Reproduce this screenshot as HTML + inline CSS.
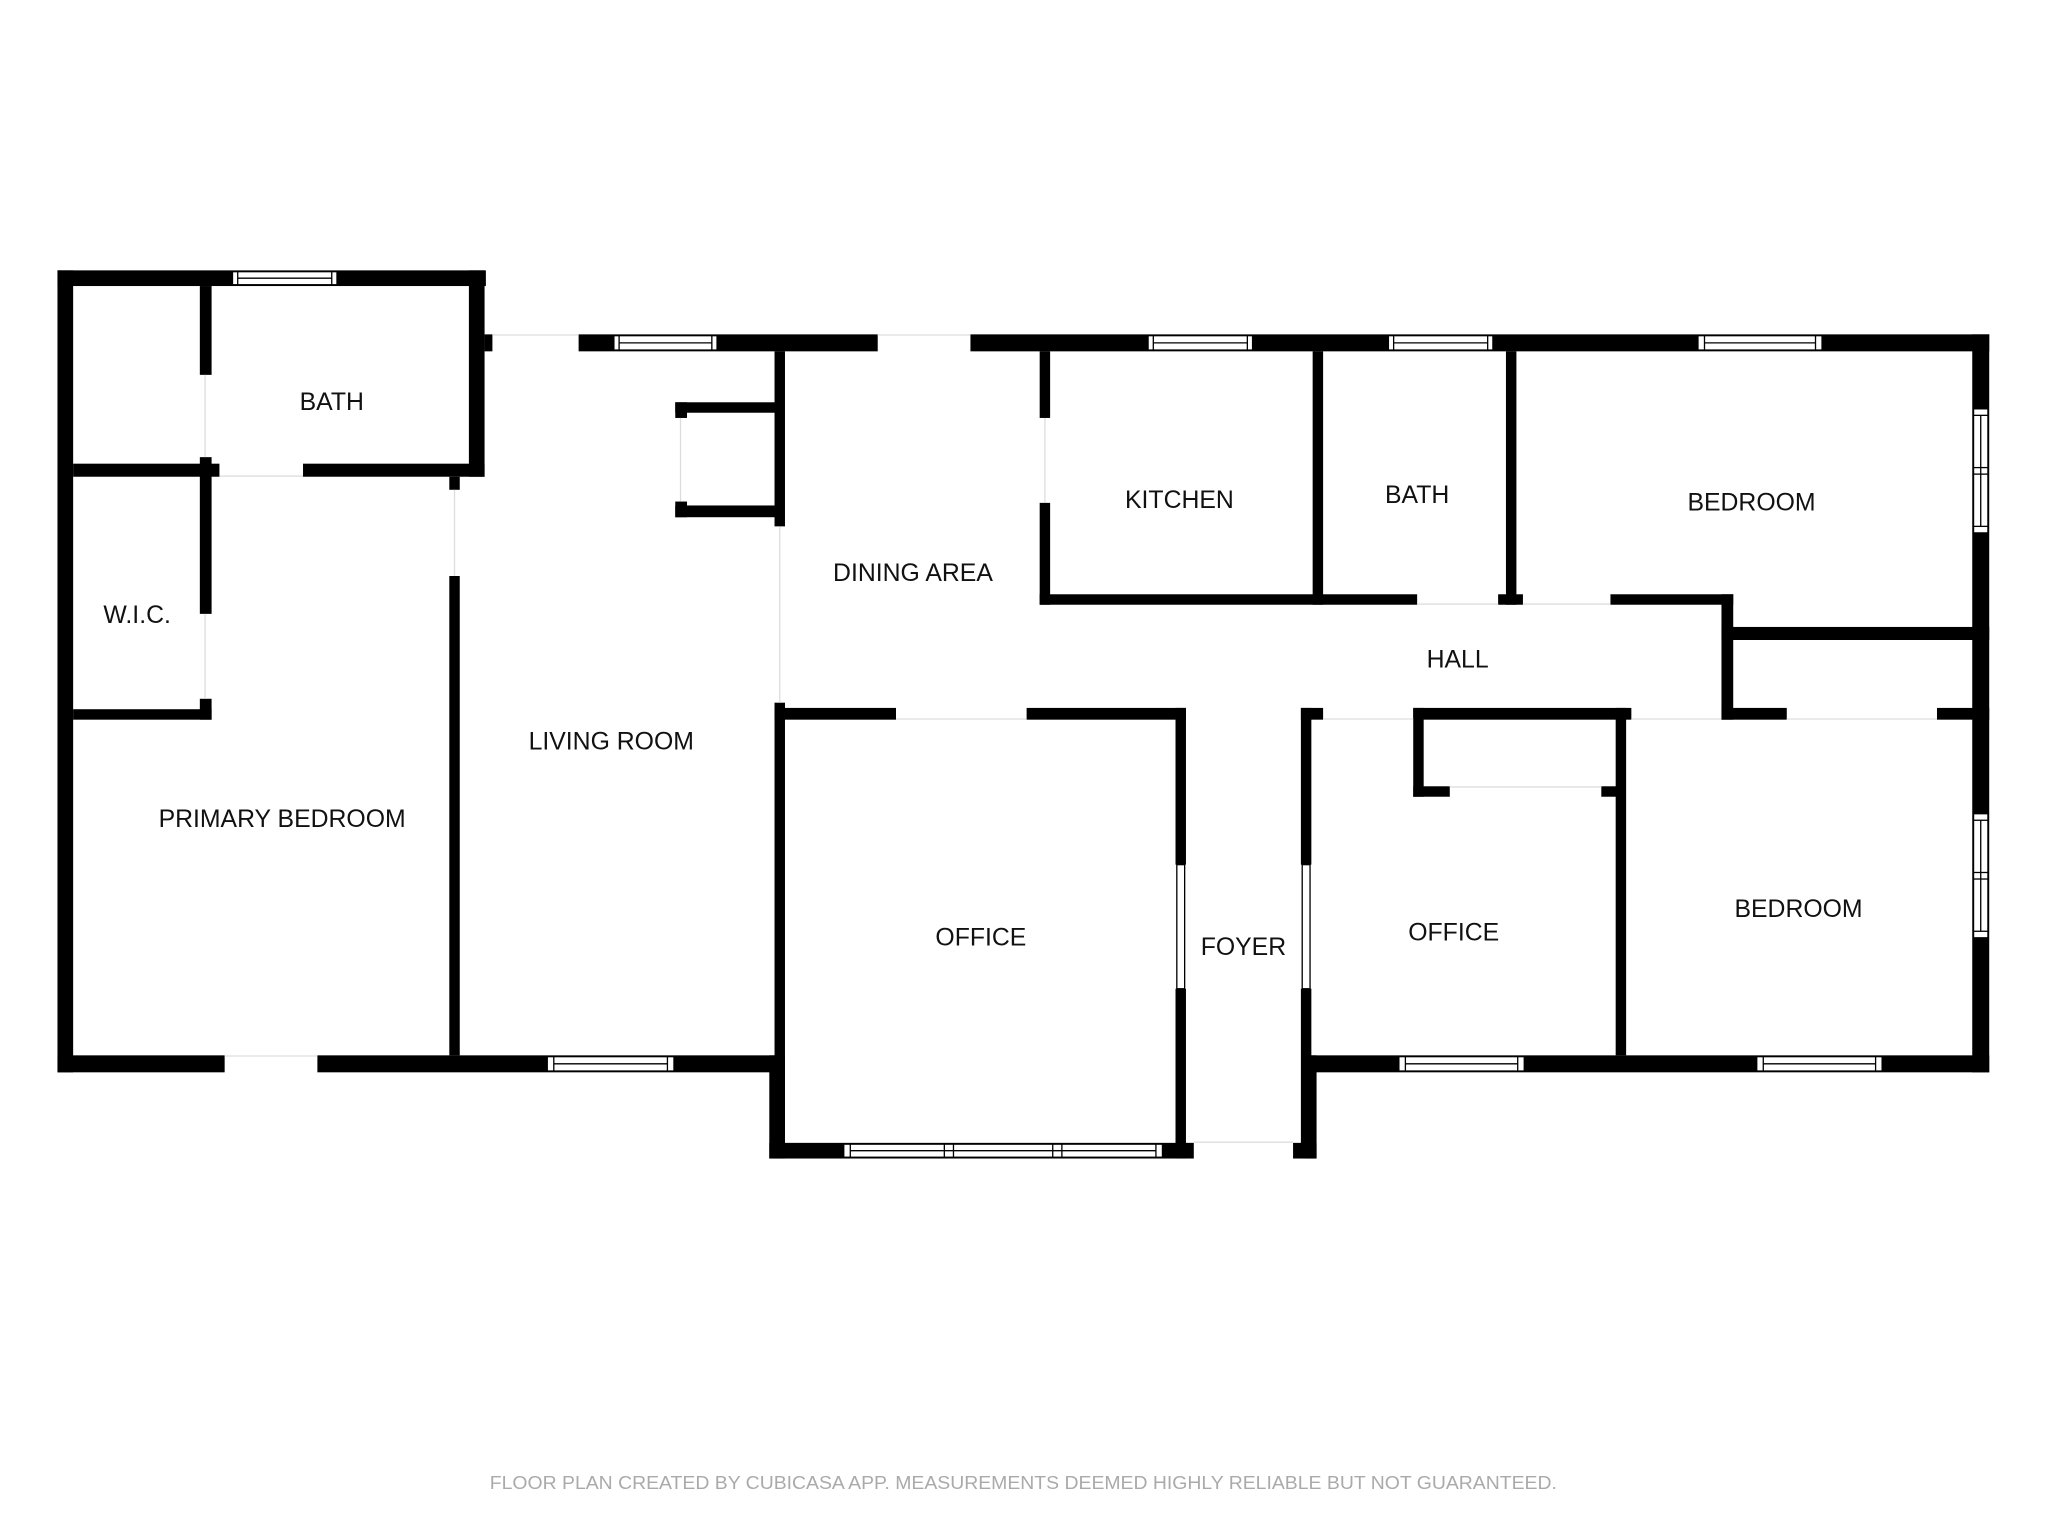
<!DOCTYPE html>
<html><head><meta charset="utf-8"><style>
html,body{margin:0;padding:0;background:#fff;}
svg{display:block;}
text{font-family:"Liberation Sans",Arial,sans-serif;}
</style></head><body>
<svg width="2048" height="1536" viewBox="0 0 1568 1176" xmlns="http://www.w3.org/2000/svg">
<rect width="1568" height="1176" fill="#fff"/>
<g fill="#000">
<rect x="44" y="207" width="328" height="12"/>
<rect x="44" y="207" width="12" height="614"/>
<rect x="44" y="808" width="128" height="13"/>
<rect x="243" y="808" width="353" height="13"/>
<rect x="359" y="207" width="12" height="158"/>
<rect x="153" y="219" width="9" height="68"/>
<rect x="153" y="350" width="9" height="15"/>
<rect x="153" y="362" width="9" height="108"/>
<rect x="153" y="535" width="9" height="16"/>
<rect x="56" y="355" width="112" height="10"/>
<rect x="232" y="355" width="139" height="10"/>
<rect x="56" y="543" width="106" height="8"/>
<rect x="344" y="365" width="8" height="10"/>
<rect x="344" y="441" width="8" height="367"/>
<rect x="371" y="256" width="6" height="13"/>
<rect x="443" y="256" width="229" height="13"/>
<rect x="743" y="256" width="780" height="13"/>
<rect x="593" y="269" width="8" height="134"/>
<rect x="593" y="538" width="8" height="349"/>
<rect x="517" y="308" width="80" height="8"/>
<rect x="517" y="387" width="80" height="9"/>
<rect x="517" y="308" width="9" height="12"/>
<rect x="517" y="384" width="9" height="12"/>
<rect x="593" y="542" width="93" height="9"/>
<rect x="786" y="542" width="122" height="9"/>
<rect x="900" y="542" width="8" height="120"/>
<rect x="900" y="757" width="8" height="130"/>
<rect x="589" y="808" width="12" height="79"/>
<rect x="589" y="875" width="325" height="12"/>
<rect x="996" y="542" width="17" height="9"/>
<rect x="996" y="542" width="8" height="120"/>
<rect x="996" y="757" width="8" height="130"/>
<rect x="990" y="875" width="18" height="12"/>
<rect x="1000" y="808" width="8" height="79"/>
<rect x="1000" y="808" width="523" height="13"/>
<rect x="796" y="269" width="8" height="51"/>
<rect x="796" y="385" width="8" height="78"/>
<rect x="796" y="455" width="289" height="8"/>
<rect x="1147" y="455" width="19" height="8"/>
<rect x="1233" y="455" width="94" height="8"/>
<rect x="1005" y="269" width="8" height="194"/>
<rect x="1153" y="269" width="8" height="194"/>
<rect x="1510" y="256" width="13" height="565"/>
<rect x="1318" y="455" width="9" height="96"/>
<rect x="1318" y="480" width="205" height="10"/>
<rect x="1082" y="542" width="167" height="9"/>
<rect x="1318" y="542" width="50" height="9"/>
<rect x="1483" y="542" width="40" height="9"/>
<rect x="1082" y="542" width="8" height="68"/>
<rect x="1082" y="602" width="28" height="8"/>
<rect x="1226" y="602" width="12" height="8"/>
<rect x="1237" y="542" width="8" height="266"/>
</g>
<g fill="#fff" stroke="#000" stroke-width="1">
<rect x="178" y="208" width="80" height="10"/><line x1="182" y1="213" x2="254" y2="213"/><line x1="182" y1="208" x2="182" y2="218"/><line x1="254" y1="208" x2="254" y2="218"/>
<rect x="470" y="257" width="79" height="11"/><line x1="474" y1="262.5" x2="545" y2="262.5"/><line x1="474" y1="257" x2="474" y2="268"/><line x1="545" y1="257" x2="545" y2="268"/>
<rect x="879" y="257" width="80" height="11"/><line x1="883" y1="262.5" x2="955" y2="262.5"/><line x1="883" y1="257" x2="883" y2="268"/><line x1="955" y1="257" x2="955" y2="268"/>
<rect x="1063" y="257" width="80" height="11"/><line x1="1067" y1="262.5" x2="1139" y2="262.5"/><line x1="1067" y1="257" x2="1067" y2="268"/><line x1="1139" y1="257" x2="1139" y2="268"/>
<rect x="1300" y="257" width="95" height="11"/><line x1="1305" y1="262.5" x2="1390" y2="262.5"/><line x1="1305" y1="257" x2="1305" y2="268"/><line x1="1390" y1="257" x2="1390" y2="268"/>
<rect x="419" y="809" width="97" height="11"/><line x1="424" y1="814.5" x2="511" y2="814.5"/><line x1="424" y1="809" x2="424" y2="820"/><line x1="511" y1="809" x2="511" y2="820"/>
<rect x="1071" y="809" width="96" height="11"/><line x1="1076" y1="814.5" x2="1162" y2="814.5"/><line x1="1076" y1="809" x2="1076" y2="820"/><line x1="1162" y1="809" x2="1162" y2="820"/>
<rect x="1345" y="809" width="96" height="11"/><line x1="1350" y1="814.5" x2="1436" y2="814.5"/><line x1="1350" y1="809" x2="1350" y2="820"/><line x1="1436" y1="809" x2="1436" y2="820"/>
<rect x="646" y="876" width="244" height="10"/><line x1="651" y1="881" x2="885" y2="881"/>
<line x1="651" y1="876" x2="651" y2="886"/><line x1="723" y1="876" x2="723" y2="886"/><line x1="730" y1="876" x2="730" y2="886"/><line x1="806" y1="876" x2="806" y2="886"/><line x1="813" y1="876" x2="813" y2="886"/><line x1="885" y1="876" x2="885" y2="886"/>
<rect x="1511" y="313" width="11" height="95"/><line x1="1516.5" y1="318" x2="1516.5" y2="403"/><line x1="1511" y1="318" x2="1522" y2="318"/><line x1="1511" y1="358" x2="1522" y2="358"/><line x1="1511" y1="363" x2="1522" y2="363"/><line x1="1511" y1="403" x2="1522" y2="403"/>
<rect x="1511" y="623" width="11" height="95"/><line x1="1516.5" y1="628" x2="1516.5" y2="713"/><line x1="1511" y1="628" x2="1522" y2="628"/><line x1="1511" y1="668" x2="1522" y2="668"/><line x1="1511" y1="673" x2="1522" y2="673"/><line x1="1511" y1="713" x2="1522" y2="713"/>
<rect x="901" y="662" width="6" height="95"/>
<rect x="997" y="662" width="6" height="95"/>
</g>
<g stroke="#ddd" stroke-width="1" fill="none">
<line x1="377" y1="256.5" x2="443" y2="256.5"/><line x1="672" y1="256.5" x2="743" y2="256.5"/>
<line x1="172" y1="808.5" x2="243" y2="808.5"/><line x1="168" y1="364.5" x2="232" y2="364.5"/>
<line x1="157" y1="287" x2="157" y2="350"/><line x1="157" y1="470" x2="157" y2="535"/>
<line x1="348" y1="375" x2="348" y2="441"/><line x1="597" y1="403" x2="597" y2="538"/>
<line x1="521" y1="320" x2="521" y2="384"/><line x1="800" y1="320" x2="800" y2="385"/>
<line x1="686" y1="550.5" x2="786" y2="550.5"/><line x1="914" y1="874.5" x2="990" y2="874.5"/>
<line x1="1085" y1="462.5" x2="1147" y2="462.5"/><line x1="1166" y1="462.5" x2="1233" y2="462.5"/>
<line x1="1013" y1="550.5" x2="1082" y2="550.5"/><line x1="1249" y1="550.5" x2="1318" y2="550.5"/>
<line x1="1368" y1="550.5" x2="1483" y2="550.5"/><line x1="1110" y1="602.5" x2="1226" y2="602.5"/>
</g>
<g font-size="19" fill="#111" text-anchor="middle">
<text x="254" y="314">BATH</text>
<text x="105" y="477">W.I.C.</text>
<text x="216" y="633">PRIMARY BEDROOM</text>
<text x="468" y="574">LIVING ROOM</text>
<text x="699" y="445">DINING AREA</text>
<text x="903" y="389">KITCHEN</text>
<text x="1085" y="385">BATH</text>
<text x="1341" y="391">BEDROOM</text>
<text x="1116" y="511">HALL</text>
<text x="751" y="724">OFFICE</text>
<text x="952" y="731">FOYER</text>
<text x="1113" y="720">OFFICE</text>
<text x="1377" y="702">BEDROOM</text>
</g>
<text x="375" y="1140" font-size="14" fill="#aaa" textLength="817" lengthAdjust="spacingAndGlyphs">FLOOR PLAN CREATED BY CUBICASA APP. MEASUREMENTS DEEMED HIGHLY RELIABLE BUT NOT GUARANTEED.</text>
</svg>
</body></html>
